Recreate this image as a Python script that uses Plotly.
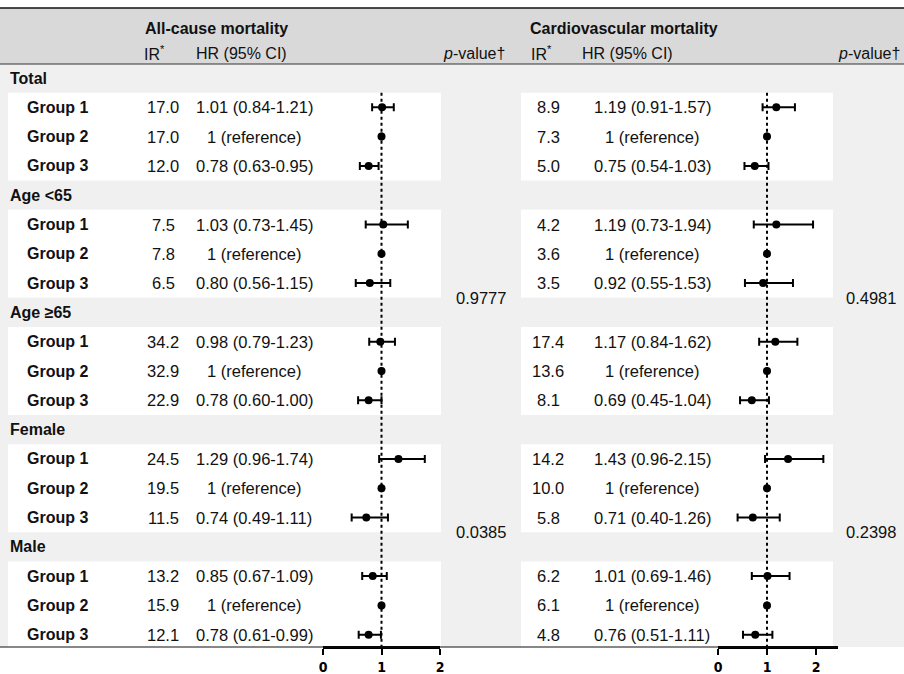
import plotly.graph_objects as go

W, H = 904, 674

# ---------------- data ----------------
sections = ["Total", "Age <65", "Age ≥65", "Female", "Male"]
groups = ["Group 1", "Group 2", "Group 3"]

ac_ir = [[17.0, 17.0, 12.0], [7.5, 7.8, 6.5], [34.2, 32.9, 22.9], [24.5, 19.5, 11.5], [13.2, 15.9, 12.1]]
ac_hr = [[1.01, 1, 0.78], [1.03, 1, 0.80], [0.98, 1, 0.78], [1.29, 1, 0.74], [0.85, 1, 0.78]]
ac_lo = [[0.84, 1, 0.63], [0.73, 1, 0.56], [0.79, 1, 0.60], [0.96, 1, 0.49], [0.67, 1, 0.61]]
ac_hi = [[1.21, 1, 0.95], [1.45, 1, 1.15], [1.23, 1, 1.00], [1.74, 1, 1.11], [1.09, 1, 0.99]]

cv_ir = [[8.9, 7.3, 5.0], [4.2, 3.6, 3.5], [17.4, 13.6, 8.1], [14.2, 10.0, 5.8], [6.2, 6.1, 4.8]]
cv_hr = [[1.19, 1, 0.75], [1.19, 1, 0.92], [1.17, 1, 0.69], [1.43, 1, 0.71], [1.01, 1, 0.76]]
cv_lo = [[0.91, 1, 0.54], [0.73, 1, 0.55], [0.84, 1, 0.45], [0.96, 1, 0.40], [0.69, 1, 0.51]]
cv_hi = [[1.57, 1, 1.03], [1.94, 1, 1.53], [1.62, 1, 1.04], [2.15, 1, 1.26], [1.46, 1, 1.11]]

ac_p = ["0.9777", "0.0385"]
cv_p = ["0.4981", "0.2398"]
p_spans = [(1, 2), (3, 4)]  # section index ranges the p-values belong to

x_ticks = [0, 1, 2]

# ---------------- layout helpers ----------------
FONT = "Liberation Sans, Arial, sans-serif"
ROW0, ROWH = 78, 29.3


def X(px):
    return px / W


def Y(py):
    return 1 - py / H


def row_of(s, g=None):
    return s * 4 if g is None else s * 4 + 1 + g


def hr_text(hr, lo, hi, g):
    if g == 1:
        return "1 (reference)"
    return f"{hr:.2f} ({lo:.2f}-{hi:.2f})"


fig = go.Figure()
shapes = []
ann = []

# backgrounds
shapes.append(dict(type="rect", xref="paper", yref="paper", x0=0, x1=1, y0=Y(647), y1=Y(64),
                   fillcolor="#f0f0f0", line_width=0, layer="below"))
shapes.append(dict(type="rect", xref="paper", yref="paper", x0=0, x1=1, y0=Y(64), y1=Y(8),
                   fillcolor="#d9d9d9", line_width=0, layer="below"))
for s in range(len(sections)):
    for (a, b) in [(8, 441), (521, 833)]:
        shapes.append(dict(type="rect", xref="paper", yref="y", x0=X(a), x1=X(b),
                           y0=row_of(s, 0) - 0.5, y1=row_of(s, 2) + 0.5,
                           fillcolor="white", line_width=0, layer="below"))

# reference lines at HR = 1
axis_row = (647 - ROW0) / ROWH
for xr in ["x", "x2"]:
    shapes.append(dict(type="line", xref=xr, yref="y", x0=1, x1=1, y0=0.5, y1=axis_row,
                       line=dict(color="black", width=2, dash="dot"), layer="below"))

# rule lines
shapes.append(dict(type="line", xref="paper", yref="paper", x0=0, x1=1, y0=Y(8), y1=Y(8),
                   line=dict(color="#111", width=1.5)))
shapes.append(dict(type="line", xref="paper", yref="paper", x0=0, x1=1, y0=Y(64), y1=Y(64),
                   line=dict(color="#333", width=1)))
shapes.append(dict(type="line", xref="paper", yref="paper", x0=0, x1=X(838), y0=Y(647), y1=Y(647),
                   line=dict(color="#111", width=1.2)))

# forest traces
for hr, lo, hi, xa in [(ac_hr, ac_lo, ac_hi, "x"), (cv_hr, cv_lo, cv_hi, "x2")]:
    xs, ys, ep, em = [], [], [], []
    for s in range(len(sections)):
        for g in range(3):
            xs.append(hr[s][g])
            ys.append(row_of(s, g))
            ep.append(hi[s][g] - hr[s][g])
            em.append(hr[s][g] - lo[s][g])
    fig.add_trace(go.Scatter(
        x=xs, y=ys, xaxis=xa, yaxis="y", mode="markers",
        marker=dict(color="black", size=8),
        error_x=dict(type="data", symmetric=False, array=ep, arrayminus=em,
                     color="black", thickness=2, width=4),
        showlegend=False, hoverinfo="skip", cliponaxis=False))


# text
def add_text(x, y, text, anchor="left", bold=False, yref="y", size=16):
    ann.append(dict(x=x, y=y, xref="paper", yref=yref, text=f"<b>{text}</b>" if bold else text,
                    showarrow=False, xanchor=anchor, yanchor="middle",
                    font=dict(family=FONT, size=size, color="#111")))


# headers
add_text(X(143), Y(29), "All-cause mortality", bold=True, yref="paper")
add_text(X(528), Y(29), "Cardiovascular mortality", bold=True, yref="paper")
add_text(X(142), Y(53), "IR<sup>*</sup>", yref="paper")
add_text(X(194), Y(53), "HR (95% CI)", yref="paper")
add_text(X(507), Y(53), "<i>p</i>-value†", anchor="right", yref="paper")
add_text(X(529), Y(53), "IR<sup>*</sup>", yref="paper")
add_text(X(580), Y(53), "HR (95% CI)", yref="paper")
add_text(X(902), Y(53), "<i>p</i>-value†", anchor="right", yref="paper")

for s, sec in enumerate(sections):
    add_text(X(8), row_of(s), sec, bold=True)
    for g, grp in enumerate(groups):
        r = row_of(s, g)
        add_text(X(25), r, grp, bold=True)
        add_text(X(163), r, f"{ac_ir[s][g]:.1f}", anchor="center", size=16.5)
        add_text(X(254), r, hr_text(ac_hr[s][g], ac_lo[s][g], ac_hi[s][g], g), anchor="center", size=16.5)
        add_text(X(548), r, f"{cv_ir[s][g]:.1f}", anchor="center", size=16.5)
        add_text(X(652), r, hr_text(cv_hr[s][g], cv_lo[s][g], cv_hi[s][g], g), anchor="center", size=16.5)

for k, (a, b) in enumerate(p_spans):
    mid = (row_of(a) + row_of(b, 2)) / 2
    add_text(X(481), mid, ac_p[k], anchor="center", size=16.5)
    add_text(X(871), mid, cv_p[k], anchor="center", size=16.5)

axis_common = dict(anchor="free", position=Y(647), showline=True, linewidth=3, linecolor="black",
                   ticks="outside", ticklen=6, tickwidth=2, tickcolor="black", tickvals=x_ticks,
                   showgrid=False, zeroline=False, fixedrange=True,
                   tickfont=dict(family="Liberation Sans Narrow, DejaVu Sans Condensed, sans-serif",
                                 size=14, color="black", weight="bold"))

fig.update_layout(
    width=W, height=H,
    margin=dict(l=0, r=0, t=0, b=0, autoexpand=False),
    paper_bgcolor="white", plot_bgcolor="rgba(0,0,0,0)",
    xaxis=dict(domain=[X(323), X(440)], range=[0, 2], **axis_common),
    xaxis2=dict(domain=[X(718), X(838)], range=[0, 120 / 49], **axis_common),
    yaxis=dict(domain=[0, 1], range=[(H - ROW0) / ROWH, -ROW0 / ROWH], visible=False, fixedrange=True),
    shapes=shapes, annotations=ann, showlegend=False,
)

fig.write_html("out.html", config={"displayModeBar": False},
               post_script="document.body.style.margin='0';document.body.style.padding='0';"
                           "document.body.style.overflow='hidden';")
